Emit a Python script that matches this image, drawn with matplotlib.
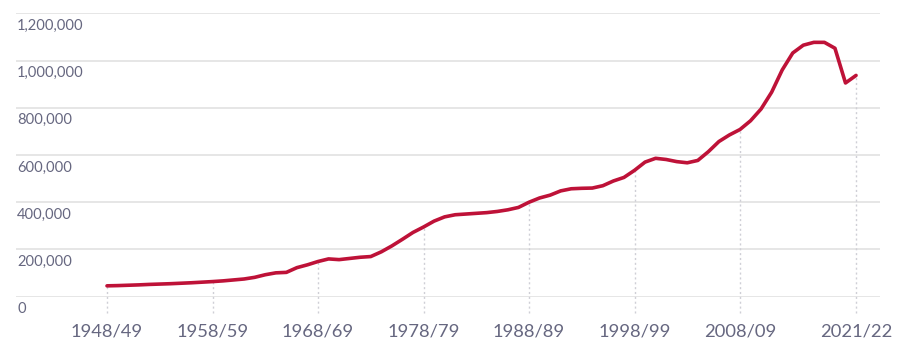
import numpy as np
import matplotlib

matplotlib.use("Agg")
import matplotlib.pyplot as plt
import matplotlib.transforms as mtransforms

plt.rcParams["font.family"] = ["Lato", "DejaVu Sans"]

# yearly values, 1948/49 onwards
values = [
    46000, 47000, 48500, 50000, 52000, 53500, 55000, 57000, 59000, 61500,
    64000, 67000, 71000, 75000, 82000, 93000, 101000, 103000, 123000, 135000,
    149000, 160000, 157000, 162000, 167000, 170000, 190000, 215000, 243000, 272000,
    295000, 320000, 338000, 347000, 350000, 353000, 356000, 361000, 368000, 378000,
    400000, 418000, 430000, 448000, 457000, 459000, 460000, 470000, 490000, 505000,
    535000, 570000, 586000, 581000, 572000, 567000, 577000, 614000, 657000, 685000,
    708000, 745000, 795000, 866000, 960000, 1032000, 1065000, 1077000, 1077000, 1052000,
    905000, 937000,
]
tick_idx = [0, 10, 20, 30, 40, 50, 60, 71]
tick_labels = ["1948/49", "1958/59", "1968/69", "1978/79", "1988/89",
               "1998/99", "2008/09", "2021/22"]
y_ticks = [0, 200000, 400000, 600000, 800000, 1000000, 1200000]

LINE = "#BE1238"
TEXT = "#666780"
GRID = "#E2E2E2"
DOT = "#CFCFD6"

W, H = 900, 354
fig = plt.figure(figsize=(W / 100, H / 100), dpi=100)
x0, x1 = 16, 880
y0, y1 = 296.7, 13.3
ax = fig.add_axes([x0 / W, 1 - y0 / H, (x1 - x0) / W, (y0 - y1) / H])

px_per_idx = 10.55
first_px = 107
ax.set_xlim(-(first_px - x0) / px_per_idx, (x1 - first_px) / px_per_idx)
ax.set_ylim(0, 1200000)

x = np.arange(len(values))
ax.plot(x, values, color=LINE, linewidth=2.6, solid_joinstyle="round",
        solid_capstyle="round", zorder=4)

# horizontal grid
for v in y_ticks:
    ax.axhline(v, color=GRID, linewidth=1.2, zorder=1)

# dotted drop lines at labelled years
for i in tick_idx:
    ax.vlines(i, -70000, values[i], colors=DOT, linestyles=(0, (1.5, 2.0)),
              linewidth=1.0, zorder=2, clip_on=False)

# y labels sit under their gridline, left aligned
offset = mtransforms.ScaledTranslation(1 / 100, -4 / 72, fig.dpi_scale_trans)
trans = mtransforms.blended_transform_factory(ax.transAxes, ax.transData) + offset
for v in y_ticks:
    ax.text(0, v, f"{v:,}", transform=trans, ha="left", va="top",
            fontsize=10.6, color=TEXT)

ax.set_yticks([])
ax.set_xticks(tick_idx)
ax.set_xticklabels(tick_labels, fontsize=13.2, color=TEXT)
ax.tick_params(axis="x", length=0, pad=19)
for s in ax.spines.values():
    s.set_visible(False)

fig.savefig("out.png", dpi=100)
